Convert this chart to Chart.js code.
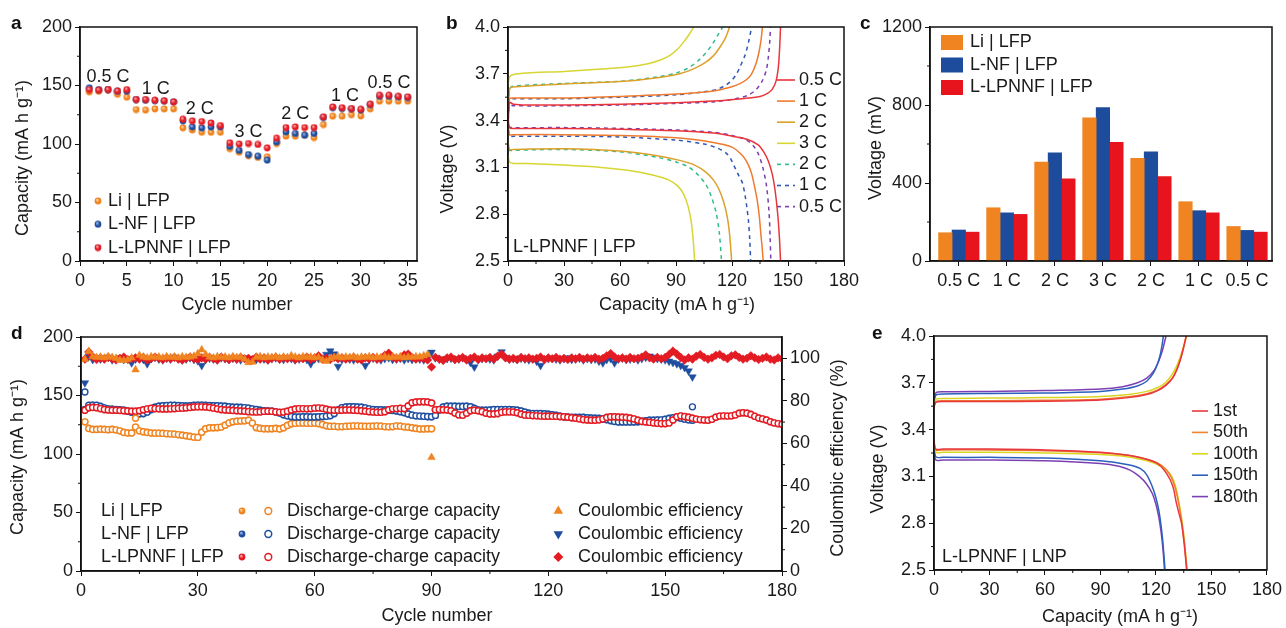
<!DOCTYPE html>
<html>
<head>
<meta charset="utf-8">
<title>Li | LFP cells</title>
<script src="https://cdn.jsdelivr.net/npm/chart.js@4.4.1/dist/chart.umd.min.js"></script>
<style>
  body { margin: 0; background: #fff; }
  #wrap { position: relative; width: 1286px; height: 628px; overflow: hidden; font-family: "Liberation Sans", Arial, sans-serif; }
  #wrap canvas { position: absolute; left: 0; top: 0; }
  .tag { position: absolute; font-weight: bold; font-size: 19px; line-height: 19px; color: #111; }
</style>
</head>
<body>
<div id="wrap">
  <canvas id="rateChart" width="1286" height="628"></canvas>
  <canvas id="profileChart" width="1286" height="628"></canvas>
  <canvas id="polarChart" width="1286" height="628"></canvas>
  <canvas id="cycleChart" width="1286" height="628"></canvas>
  <canvas id="lnpChart" width="1286" height="628"></canvas>
  <div class="tag" style="left:11px;top:13px">a</div>
  <div class="tag" style="left:446px;top:13px">b</div>
  <div class="tag" style="left:860px;top:13px">c</div>
  <div class="tag" style="left:11px;top:323px">d</div>
  <div class="tag" style="left:872px;top:323px">e</div>
</div>
<script>
// ---- data ----
const cellNames = ['Li | LFP', 'L-NF | LFP', 'L-LPNNF | LFP'];

// a: rate capability
const aCycles = [1,2,3,4,5,6,7,8,9,10,11,12,13,14,15,16,17,18,19,20,21,22,23,24,25,26,27,28,29,30,31,32,33,34,35];
const aLi = [144.5,145,146.5,142.5,140, 129.4,129,130,130,130, 113.8,112,110,110,110, 96,93,90,88.5,89, 100.4,106.7,106.7,107.5,105.5, 116.6,123.8,123.8,125,124, 130,136.6,136.6,136.6,136.6];
const aNF = [148,146.5,146.5,145,145, 138,137.4,137,136.6,136, 119.8,114.6,113.8,114.6,114.6, 98,94.5,91,89.6,86.2, 101.8,110.4,109,107.5,109, 122.6,131,130.3,130,129, 133.7,140.8,140.8,140.3,139.7];
const aLPNNF = [146.5,146,146.5,145.4,146.5, 138,138,137.4,137,136, 121.2,119.8,119.2,118,115.8, 101,99.9,100.4,99.6,96.7, 105,114,114.6,114,114, 123.2,131.7,131,130.3,129.7, 134,141.7,141.7,140.8,140.3];
const aRateText = ['0.5 C', '1 C', '2 C', '3 C', '2 C', '1 C', '0.5 C'];
const aRateX = [3, 8.1, 12.8, 18, 23, 28.3, 33];
const aRateY = [157, 147.4, 129.6, 110.4, 125.2, 141, 151.7];

// b: charge / discharge profiles of L-LPNNF | LFP, [capacity, voltage]
const bRates = ['0.5 C', '1 C', '2 C', '3 C', '2 C', '1 C', '0.5 C'];
const bChg05 = [[0,3.37],[0.8,3.515],[3,3.505],[10,3.50],[30,3.50],[60,3.505],[90,3.515],[110,3.525],[125,3.54],[135,3.555],[139,3.575],[141.5,3.60],[143.5,3.65],[144.8,3.74],[145.5,3.86],[146,4.0]];
const bDis05 = [[0,3.43],[0.8,3.355],[3,3.35],[30,3.35],[60,3.345],[90,3.335],[110,3.32],[120,3.30],[128,3.28],[134,3.245],[137,3.20],[139.5,3.14],[141.5,3.06],[143,2.96],[144.5,2.80],[145.4,2.65],[146,2.5]];
const bChg1 = [[0,3.35],[0.8,3.54],[3,3.545],[30,3.545],[60,3.555],[90,3.57],[110,3.59],[118,3.61],[124,3.635],[128,3.665],[130.5,3.70],[132.7,3.76],[134.3,3.83],[135.6,3.92],[136.3,4.0]];
const bDis1 = [[0,3.40],[0.8,3.31],[3,3.31],[30,3.31],[60,3.305],[90,3.29],[110,3.26],[120,3.23],[126,3.17],[128.8,3.115],[130.5,3.06],[132.2,2.97],[133.5,2.89],[134.6,2.79],[135.4,2.68],[136.2,2.58],[136.7,2.5]];
const bChg2 = [[0,3.30],[0.8,3.60],[2.5,3.615],[30,3.635],[60,3.65],[80,3.675],[92,3.70],[100,3.735],[106,3.775],[110,3.815],[113.5,3.87],[116.5,3.93],[118.7,4.0]];
const bDis2 = [[0,3.27],[0.8,3.215],[3,3.215],[30,3.22],[60,3.205],[80,3.175],[92,3.145],[100,3.115],[106,3.07],[110,3.02],[113,2.96],[115.5,2.88],[117.5,2.78],[118.8,2.66],[119.8,2.5]];
const bChg3 = [[0,3.62],[0.8,3.68],[3,3.695],[10,3.705],[30,3.715],[50,3.73],[65,3.745],[75,3.765],[82,3.79],[87,3.82],[91,3.86],[94.5,3.91],[97.5,3.96],[99.5,4.0]];
const bDis3 = [[0,3.18],[0.8,3.135],[3,3.125],[10,3.125],[30,3.115],[50,3.10],[65,3.08],[78,3.05],[86,3.02],[91,2.98],[94,2.93],[96.5,2.85],[98.3,2.74],[99.3,2.62],[100,2.5]];
const bChg2b = [[0,3.30],[0.8,3.60],[2.5,3.62],[30,3.638],[60,3.652],[80,3.68],[90,3.705],[97,3.74],[102,3.785],[106,3.835],[109.5,3.89],[112.5,3.95],[115,4.0]];
const bDis2b = [[0,3.27],[0.8,3.21],[3,3.21],[30,3.215],[60,3.20],[80,3.165],[90,3.135],[97,3.10],[102,3.05],[106,2.99],[109,2.91],[111.5,2.81],[113.2,2.68],[114.4,2.5]];
const bChg1b = [[0,3.35],[0.8,3.535],[3,3.54],[30,3.54],[60,3.55],[90,3.565],[105,3.585],[112,3.60],[117,3.63],[120,3.66],[122.5,3.70],[124.5,3.75],[127,3.82],[129,3.91],[130.5,4.0]];
const bDis1b = [[0,3.39],[0.8,3.30],[3,3.30],[30,3.30],[60,3.295],[90,3.275],[105,3.25],[112,3.225],[117,3.19],[119.5,3.15],[121.5,3.10],[123.5,3.05],[125.6,3.0],[127,2.92],[128,2.84],[128.8,2.76],[129.5,2.64],[130,2.5]];
const bChg05b = [[0,3.36],[0.8,3.50],[3,3.495],[30,3.495],[60,3.50],[90,3.51],[110,3.52],[122,3.54],[129,3.565],[133,3.60],[136,3.65],[138.3,3.72],[139.6,3.82],[140.3,3.92],[140.6,4.0]];
const bDis05b = [[0,3.42],[0.8,3.36],[3,3.355],[30,3.355],[60,3.35],[90,3.34],[110,3.325],[120,3.305],[127,3.28],[131,3.245],[134,3.19],[136.5,3.10],[138.5,2.98],[139.8,2.82],[140.4,2.66],[140.8,2.5]];
const bCharge = [bChg05, bChg1, bChg2, bChg3, bChg2b, bChg1b, bChg05b];
const bDischarge = [bDis05, bDis1, bDis2, bDis3, bDis2b, bDis1b, bDis05b];

// c: polarization voltage (mV)
const cRates = ['0.5 C', '1 C', '2 C', '3 C', '2 C', '1 C', '0.5 C'];
const cLi = [145, 273, 507, 734, 526, 304, 177];
const cNF = [159, 247, 555, 787, 560, 258, 157];
const cLPNNF = [148, 239, 421, 609, 433, 247, 148];

// d: long cycling at 1 C
const dLi = [127.5,121.8,121.0,121.0,121.2,121.0,120.8,121.0,120.6,119.8,
 118.4,118.0,118.0,123.0,119.8,119.0,118.4,118.0,117.8,117.8,
 117.6,117.4,117.2,117.0,116.6,116.0,115.6,115.0,114.4,114.2,
 118.6,121.6,122.4,122.4,122.6,123.0,124.6,126.6,127.6,128.0,
 128.2,128.4,128.8,126.4,122.6,121.8,121.6,121.6,121.6,121.8,
 121.4,122.4,124.4,125.8,126.2,126.4,126.4,126.2,126.2,126.4,
 126.0,125.2,124.2,123.6,123.6,123.4,123.4,123.6,123.8,124.0,
 124.0,123.8,123.6,123.6,123.8,124.0,123.8,123.4,123.2,123.4,
 124.0,123.8,123.2,122.8,122.4,121.8,121.4,121.4,121.6,121.6];
const dNF = [138.0,141.6,141.8,141.6,140.6,139.4,138.6,138.2,138.0,137.8,
 137.4,136.6,135.6,134.8,134.4,134.6,135.8,138.0,140.0,140.8,
 141.2,141.4,141.6,141.6,141.4,141.2,141.0,141.2,141.6,141.8,
 141.8,141.6,141.4,141.2,141.2,141.0,140.8,140.4,140.0,140.0,
 139.8,139.6,139.2,138.6,138.0,137.4,137.0,136.8,136.6,136.0,
 135.0,133.6,132.6,132.0,131.6,131.6,131.8,131.8,131.6,131.6,
 131.8,132.0,132.2,132.8,134.6,137.6,139.6,140.2,140.4,140.4,
 140.2,140.0,139.4,138.6,138.0,137.8,137.8,137.6,137.4,137.2,
 136.8,136.2,135.4,134.2,133.2,132.6,132.4,132.2,132.0,131.8,
 133.0,137.6,140.2,140.8,140.8,140.8,140.6,140.6,140.8,140.4,
 139.0,137.6,137.4,137.4,137.6,138.0,138.0,138.0,138.0,138.0,
 137.8,137.4,136.8,135.8,134.8,134.6,134.6,134.6,134.4,134.0,
 133.6,133.0,132.4,131.8,131.4,131.2,131.2,131.2,131.2,131.0,
 130.8,130.6,130.4,130.0,129.4,128.6,127.8,127.4,127.4,127.4,
 127.4,127.4,127.6,127.8,128.4,128.8,128.9,129.0,129.2,129.6,
 130.4,131.0,131.2,130.6,129.8,129.2,128.9];
const dLPNNF = [137.4,139.5,139.8,139.6,138.8,138.0,137.6,137.4,137.4,137.2,
 137.0,136.8,136.6,136.5,137.0,137.8,138.6,139.0,138.8,138.6,
 138.4,138.4,138.6,138.8,139.0,139.2,139.4,139.8,140.2,140.3,
 140.3,140.2,139.8,139.2,138.6,138.0,137.6,137.4,137.2,137.0,
 136.8,136.6,136.2,136.0,135.8,136.0,136.4,136.6,136.4,136.0,
 135.6,135.8,136.6,137.6,138.4,138.8,138.8,138.6,138.8,139.2,
 139.4,139.0,138.2,137.6,137.4,137.4,137.4,137.6,137.6,137.4,
 137.2,137.0,136.6,136.2,135.8,135.6,135.6,136.2,137.8,138.6,
 138.8,139.0,138.8,141.0,143.8,144.4,144.6,144.6,144.4,143.6,
 137.8,138.0,137.8,137.6,137.0,135.0,133.4,133.2,134.8,137.0,
 137.4,137.0,136.2,134.8,134.2,134.2,134.6,135.6,136.0,136.0,
 135.8,135.2,134.0,133.2,133.0,132.8,132.6,132.4,132.3,132.3,
 132.2,132.2,132.0,131.8,131.4,131.0,130.6,130.0,129.4,129.0,
 128.9,128.9,129.2,130.0,131.2,131.8,131.8,131.6,131.4,131.2,
 130.8,130.0,128.8,127.8,127.4,127.0,126.6,126.2,126.0,126.0,
 126.6,129.0,131.8,132.6,132.0,131.4,130.6,129.8,129.4,129.0,
 128.8,129.6,131.4,132.4,132.6,132.4,132.6,133.4,134.8,135.2,
 134.8,133.8,132.2,130.8,130.0,129.0,127.6,126.6,126.0,125.4];
// charge points that sit apart from the discharge chain
const dLiChgX = [14], dLiChgY = [130.6];
const dNFChgX = [1, 157], dNFChgY = [153, 140.3];
// Coulombic efficiency (%)
const ceLi = [99.5,103.2,100.8,100.4,100.6,100.2,100.8,100.4,100.0,99.2,
 99.0,99.4,100.2,94.6,101.4,100.6,100.2,100.8,100.4,100.6,
 100.2,100.8,100.4,100.6,100.2,100.8,100.4,100.6,101.0,102.2,
 104.0,101.8,100.6,100.2,100.8,100.4,100.6,100.2,100.8,100.4,
 100.6,99.6,98.0,98.2,100.4,100.8,100.2,100.6,100.4,100.8,
 100.2,100.6,100.4,101.2,100.6,100.2,100.8,100.4,100.6,100.2,
 100.4,99.2,98.6,99.8,100.4,100.8,100.2,100.6,100.4,100.8,
 100.2,100.6,100.4,100.8,100.2,100.6,100.4,100.8,100.2,100.6,
 100.4,100.8,100.2,100.6,100.4,100.8,100.6,101.2,101.8,53.4];
const ceNF = [88.4,100.8,99.4,100.2,99.6,99.8,100.4,99.2,99.6,100.2,
 99.4,99.8,97.8,99.6,100.2,99.4,97.4,99.8,100.4,99.6,
 99.2,100.0,99.6,100.4,99.8,99.2,99.6,100.2,99.4,98.8,
 96.6,99.4,100.0,99.6,99.2,100.2,99.8,99.4,100.0,99.6,
 99.2,100.2,99.6,99.8,99.4,100.0,99.6,99.2,99.8,100.2,
 99.6,99.4,100.0,99.8,99.2,99.6,100.2,99.4,97.4,99.6,
 99.8,100.2,101.8,103.4,102.0,96.2,99.4,100.0,99.6,99.2,
 99.8,99.6,96.6,99.4,100.0,99.6,99.2,99.8,100.2,99.4,
 99.6,100.0,99.2,99.8,99.4,100.0,99.6,99.2,100.2,102.8,
 100.2,99.6,99.2,99.8,100.0,99.4,99.6,100.2,99.4,98.0,
 95.9,99.4,99.8,100.0,99.6,99.2,101.0,103.0,100.4,99.6,
 99.8,99.4,100.0,99.6,99.2,99.8,98.6,96.6,99.4,99.8,
 100.0,99.6,99.2,99.8,100.2,99.4,99.6,100.0,99.2,99.8,
 99.4,99.6,98.6,97.8,99.4,99.8,97.8,99.6,100.0,99.4,
 99.6,100.0,99.2,99.8,100.4,101.0,100.4,99.8,99.6,99.2,
 98.6,98.0,97.4,96.6,95.6,94.0,91.2];
const ceLPNNF = [99.6,103.0,100.8,99.4,100.2,99.6,100.4,99.8,99.2,100.0,
 100.6,99.4,99.8,100.2,99.6,100.4,99.2,99.8,100.6,100.0,
 99.4,100.2,99.8,100.4,99.6,99.2,100.0,100.6,99.8,99.4,
 100.2,99.6,100.4,99.8,99.2,100.6,100.0,99.4,100.2,99.6,
 100.4,99.8,100.0,99.4,100.6,99.6,100.2,99.2,100.0,100.4,
 99.6,100.2,99.8,100.4,99.4,100.0,99.8,100.6,99.4,100.2,
 101.2,99.6,100.0,99.4,100.4,99.8,100.2,99.6,100.0,100.4,
 99.6,99.2,100.2,99.8,100.4,99.6,100.0,101.4,102.4,100.6,
 99.8,100.2,101.6,102.0,100.4,99.6,100.2,99.8,99.2,95.9,
 100.4,99.6,99.0,100.2,100.6,99.4,99.8,100.4,99.2,100.0,
 100.6,99.4,100.2,99.8,100.4,99.6,101.0,102.0,100.2,99.6,
 100.0,99.4,100.4,99.8,100.2,99.6,100.0,100.6,99.4,100.2,
 99.8,100.4,99.6,100.0,99.4,100.2,99.8,100.4,99.6,100.2,
 99.8,100.4,99.6,100.0,101.2,102.2,100.6,99.8,100.2,99.6,
 100.4,99.8,100.0,100.6,101.6,100.2,99.6,100.4,99.8,100.4,
 101.8,103.4,102.0,100.4,99.2,100.2,99.6,101.0,101.8,100.4,
 99.6,100.2,101.4,101.8,100.6,99.8,101.2,101.6,100.4,99.6,
 100.0,101.2,100.2,99.4,100.0,100.6,99.6,99.2,100.2,99.8];

// e: L-LPNNF | LNP profiles, [capacity, voltage]
const eCycles = ['1st', '50th', '100th', '150th', '180th'];
const eChg1 = [[0,3.54],[1,3.575],[5,3.58],[30,3.58],[60,3.582],[90,3.59],[105,3.605],[115,3.625],[121,3.65],[125.5,3.685],[129,3.73],[131.5,3.79],[133.5,3.86],[135.2,3.94],[136.3,4.0]];
const eChg50 = [[0,3.55],[1,3.58],[5,3.585],[30,3.585],[60,3.588],[90,3.595],[105,3.61],[115,3.63],[121,3.655],[125.5,3.69],[129,3.735],[131.5,3.795],[133.5,3.865],[135.3,3.945],[136.4,4.0]];
const eChg100 = [[0,3.56],[1,3.595],[5,3.60],[30,3.602],[60,3.605],[90,3.612],[105,3.625],[115,3.645],[121,3.67],[125,3.70],[128.5,3.75],[131.3,3.81],[133.5,3.88],[135.3,3.95],[136.6,4.0]];
const eChg150 = [[0,3.57],[1,3.62],[5,3.628],[30,3.632],[60,3.635],[90,3.645],[102,3.66],[110,3.68],[115,3.71],[118.5,3.76],[120.8,3.82],[122.3,3.88],[123.4,3.95],[124,4.0]];
const eChg180 = [[0,3.58],[1,3.635],[5,3.642],[30,3.645],[60,3.65],[90,3.66],[102,3.675],[110,3.70],[115,3.73],[119,3.78],[121.5,3.84],[123.3,3.9],[124.6,3.96],[125.4,4.0]];
const eDis1 = [[0,3.33],[1,3.275],[5,3.275],[30,3.275],[60,3.27],[90,3.255],[105,3.235],[115,3.21],[120.5,3.185],[124.5,3.14],[127.6,3.08],[129.5,3.02],[131,2.93],[132.5,2.86],[133.8,2.80],[135.2,2.67],[136.6,2.5]];
const eDis50 = [[0,3.32],[1,3.27],[5,3.27],[30,3.27],[60,3.265],[90,3.252],[105,3.235],[115,3.21],[121,3.185],[125,3.15],[128,3.10],[130.3,3.03],[132.2,2.93],[133.9,2.81],[135.5,2.66],[136.8,2.5]];
const eDis100 = [[0,3.30],[1,3.255],[5,3.255],[30,3.255],[60,3.25],[90,3.24],[105,3.225],[115,3.20],[121,3.175],[125.5,3.14],[128.5,3.10],[130.5,3.04],[132.3,2.94],[134,2.82],[135.5,2.67],[136.6,2.5]];
const eDis150 = [[0,3.30],[1,3.225],[5,3.222],[30,3.222],[60,3.218],[90,3.20],[105,3.175],[111.6,3.15],[115,3.11],[117.8,3.04],[119.8,2.97],[121.4,2.89],[122.7,2.79],[123.7,2.68],[124.9,2.5]];
const eDis180 = [[0,3.28],[1,3.205],[5,3.205],[30,3.205],[60,3.20],[90,3.183],[100,3.165],[106,3.14],[111,3.10],[115,3.05],[118,2.99],[120,2.92],[121.5,2.84],[122.8,2.74],[123.8,2.63],[124.6,2.5]];
const eCharge = [eChg1, eChg50, eChg100, eChg150, eChg180];
const eDischarge = [eDis1, eDis50, eDis100, eDis150, eDis180];

// ---- styles ----
const ORANGE = '#ef8420', BLUE = '#1f4e9f', RED = '#e31b23';
const bColors = ['#e8363c', '#ef7b2e', '#dba12a', '#d6d634', '#2fbb8c', '#2f56b2', '#7c3fb0'];
const bDash = [[], [], [], [], [4, 4], [4, 4], [4, 4]];
const eColors = ['#e8363c', '#f07f2e', '#d9d622', '#2b60bd', '#7d40b4'];
const FONT = '18px "Liberation Sans", Arial, sans-serif';
const INK = '#1a1a1a';

Chart.defaults.font.family = '"Liberation Sans", Arial, sans-serif';
Chart.defaults.font.size = 18;
Chart.defaults.color = INK;
Chart.defaults.animation = false;
Chart.defaults.plugins.legend.display = false;
Chart.defaults.plugins.tooltip.enabled = false;

const W = 1286, H = 628, AXW = 60, AXH = 40;

function pad(l, t, r, b, rightAxis) {
  return { left: l - AXW, top: t, right: W - r - (rightAxis ? AXW : 0), bottom: H - b - AXH };
}

function axis(pos, min, max, step, extra) {
  return Object.assign({
    type: 'linear', position: pos, min: min, max: max,
    ticks: { stepSize: step, includeBounds: false, padding: pos === 'bottom' ? 4 : 3, color: INK, callback: v => String(v) },
    grid: { display: true, drawOnChartArea: false, drawTicks: true, tickLength: 5, color: '#111', lineWidth: 1 },
    border: { display: true, color: '#111', width: 1.5 },
    afterFit: s => { if (pos === 'bottom') s.height = AXH; else s.width = AXW; }
  }, extra || {});
}

// frame around the plot + minor ticks midway between major ticks
function frame(ids) {
  return {
    id: 'frame',
    afterDraw(chart) {
      const { ctx, chartArea: a } = chart;
      ctx.save();
      ctx.strokeStyle = '#111';
      ctx.lineWidth = 1.5;
      ctx.strokeRect(a.left, a.top, a.right - a.left, a.bottom - a.top);
      ctx.lineWidth = 1;
      ids.forEach(id => {
        const s = chart.scales[id];
        const t = s.ticks.map(k => k.value);
        for (let i = 0; i < t.length - 1; i++) {
          const p = s.getPixelForValue((t[i] + t[i + 1]) / 2);
          ctx.beginPath();
          if (s.position === 'bottom') { ctx.moveTo(p, a.bottom); ctx.lineTo(p, a.bottom + 3); }
          else if (s.position === 'left') { ctx.moveTo(a.left, p); ctx.lineTo(a.left - 3, p); }
          else { ctx.moveTo(a.right, p); ctx.lineTo(a.right + 3, p); }
          ctx.stroke();
        }
      });
      ctx.restore();
    }
  };
}

function vTitle(ctx, text, x, y) {
  ctx.save();
  ctx.translate(x, y);
  ctx.rotate(-Math.PI / 2);
  ctx.textAlign = 'center';
  ctx.textBaseline = 'middle';
  ctx.fillText(text, 0, 0);
  ctx.restore();
}

function textStyle(ctx, align) {
  ctx.font = FONT;
  ctx.fillStyle = INK;
  ctx.textAlign = align || 'left';
  ctx.textBaseline = 'middle';
}

function ball(color, light) {
  const c = document.createElement('canvas');
  c.width = c.height = 8;
  const g = c.getContext('2d');
  const grad = g.createRadialGradient(3, 2.7, 0.2, 4, 4, 3.7);
  grad.addColorStop(0, light);
  grad.addColorStop(0.55, color);
  grad.addColorStop(1, color);
  g.fillStyle = grad;
  g.beginPath();
  g.arc(4, 4, 3.4, 0, Math.PI * 2);
  g.fill();
  return c;
}
const balls = {
  orange: ball(ORANGE, '#ffd8a8'),
  blue: ball(BLUE, '#a9bfea'),
  red: ball(RED, '#ffb3b3')
};

const pts = (xs, ys) => ys.map((v, i) => ({ x: xs[i], y: v }));
const pairs = arr => arr.map(p => ({ x: p[0], y: p[1] }));
const voltTick = v => v.toFixed(1);

// ---- a ----
new Chart(document.getElementById('rateChart'), {
  type: 'scatter',
  data: {
    datasets: [
      { data: pts(aCycles, aLPNNF), pointStyle: balls.red, pointRadius: 3.4 },
      { data: pts(aCycles, aNF), pointStyle: balls.blue, pointRadius: 3.4 },
      { data: pts(aCycles, aLi), pointStyle: balls.orange, pointRadius: 3.4 }
    ]
  },
  options: {
    responsive: false,
    layout: { autoPadding: false, padding: pad(80, 27, 417, 261) },
    scales: { x: axis('bottom', 0, 36, 5), y: axis('left', 0, 200, 50) }
  },
  plugins: [frame(['x', 'y']), {
    id: 'decoA',
    afterDraw(chart) {
      const { ctx, scales: { x, y } } = chart;
      ctx.save();
      textStyle(ctx, 'center');
      aRateText.forEach((t, i) => ctx.fillText(t, x.getPixelForValue(aRateX[i]), y.getPixelForValue(aRateY[i])));
      textStyle(ctx, 'left');
      [balls.orange, balls.blue, balls.red].forEach((b, i) => {
        const yy = 201 + i * 23.3;
        ctx.drawImage(b, 94, yy - 4);
        ctx.fillText(cellNames[i], 108, yy);
      });
      vTitle(ctx, 'Capacity (mA h g\u207B\u00B9)', 23, 158);
      textStyle(ctx, 'center');
      ctx.fillText('Cycle number', 237, 305);
      ctx.restore();
    }
  }]
});

// ---- b ----
const bSets = [];
bCharge.forEach((c, i) => {
  [c, bDischarge[i]].forEach(curve => bSets.push({
    data: pairs(curve), showLine: true, pointRadius: 0, borderWidth: 1.5,
    borderColor: bColors[i], borderDash: bDash[i], tension: 0.3
  }));
});
new Chart(document.getElementById('profileChart'), {
  type: 'scatter',
  data: { datasets: bSets },
  options: {
    responsive: false,
    layout: { autoPadding: false, padding: pad(508, 27, 844, 261) },
    scales: {
      x: axis('bottom', 0, 180, 30),
      y: axis('left', 2.5, 4.0, 0.3, { ticks: { stepSize: 0.3, padding: 3, color: INK, callback: voltTick } })
    }
  },
  plugins: [frame(['x', 'y']), {
    id: 'decoB',
    afterDraw(chart) {
      const { ctx } = chart;
      ctx.save();
      textStyle(ctx, 'left');
      bRates.forEach((t, i) => {
        const yy = 80 + i * 21.1;
        ctx.strokeStyle = bColors[i];
        ctx.lineWidth = 1.6;
        ctx.setLineDash(bDash[i]);
        ctx.beginPath(); ctx.moveTo(777, yy); ctx.lineTo(795, yy); ctx.stroke();
        ctx.fillText(t, 799, yy);
      });
      ctx.setLineDash([]);
      ctx.fillText('L-LPNNF | LFP', 513, 247);
      vTitle(ctx, 'Voltage (V)', 448, 169);
      textStyle(ctx, 'center');
      ctx.fillText('Capacity (mA h g\u207B\u00B9)', 677, 305);
      ctx.restore();
    }
  }]
});

// ---- c ----
const cColors = ['#ef8420', '#1e4c9c', '#e8141d'];
new Chart(document.getElementById('polarChart'), {
  type: 'bar',
  data: {
    datasets: [cLi, cNF, cLPNNF].map((vals, i) => ({
      data: vals.map((v, k) => ({ x: k + 1, y: v })),
      backgroundColor: cColors[i], barThickness: 13.5, borderWidth: 0
    }))
  },
  options: {
    responsive: false,
    layout: { autoPadding: false, padding: pad(930, 27, 1272, 261) },
    scales: {
      x: axis('bottom', 0.4, 7.52, 1, {
        offset: false,
        ticks: { stepSize: 1, includeBounds: false, padding: 4, color: INK, callback: v => cRates[Math.round(v) - 1] },
        grid: { display: true, offset: false, drawOnChartArea: false, drawTicks: true, tickLength: 5, color: '#111', lineWidth: 1 }
      }),
      y: axis('left', 0, 1200, 400)
    }
  },
  plugins: [frame(['y']), {
    id: 'decoC',
    afterDraw(chart) {
      const { ctx } = chart;
      ctx.save();
      textStyle(ctx, 'left');
      cColors.forEach((col, i) => {
        const yy = 42.5 + i * 22.5;
        ctx.fillStyle = col;
        ctx.fillRect(941, yy - 7.5, 22, 15);
        ctx.fillStyle = INK;
        ctx.fillText(cellNames[i], 970, yy);
      });
      vTitle(ctx, 'Voltage (mV)', 876, 148);
      ctx.restore();
    }
  }]
});

// ---- d ----
const cyc = n => Array.from({ length: n }, (_, i) => i + 1);
const openSet = (data, color) => ({ data, pointStyle: 'circle', pointRadius: 3, pointBackgroundColor: '#fff', pointBorderColor: color, pointBorderWidth: 1.4 });
const filledSet = (data, img) => ({ data, pointStyle: img, pointRadius: 3.4 });
const ceSet = (data, color, style, rot, r) => ({ data, yAxisID: 'y1', pointStyle: style, pointRotation: rot, pointRadius: r, pointBackgroundColor: color, pointBorderColor: color, pointBorderWidth: 0.5 });

new Chart(document.getElementById('cycleChart'), {
  type: 'scatter',
  data: {
    datasets: [
      ceSet(pts(cyc(ceLi.length), ceLi), ORANGE, 'triangle', 0, 4.4),
      ceSet(pts(cyc(ceLPNNF.length), ceLPNNF), RED, 'rectRot', 0, 4.3),
      ceSet(pts(cyc(ceNF.length), ceNF), BLUE, 'triangle', 180, 4.4),
      openSet(pts(dLiChgX, dLiChgY), ORANGE),
      openSet(pts(dNFChgX, dNFChgY), BLUE),
      openSet(pts(cyc(dLPNNF.length), dLPNNF), RED),
      filledSet(pts(cyc(dLPNNF.length), dLPNNF), balls.red),
      openSet(pts(cyc(dNF.length), dNF), BLUE),
      filledSet(pts(cyc(dNF.length), dNF), balls.blue),
      openSet(pts(cyc(dLi.length), dLi), ORANGE),
      filledSet(pts(cyc(dLi.length), dLi), balls.orange)
    ]
  },
  options: {
    responsive: false,
    layout: { autoPadding: false, padding: pad(81, 337, 782, 571, true) },
    scales: {
      x: axis('bottom', 0, 180, 30),
      y: axis('left', 0, 200, 50),
      y1: axis('right', 0, 110, 20)
    }
  },
  plugins: [frame(['x', 'y', 'y1']), {
    id: 'decoD',
    afterDraw(chart) {
      const { ctx } = chart;
      const colors = [ORANGE, BLUE, RED];
      const bl = [balls.orange, balls.blue, balls.red];
      ctx.save();
      textStyle(ctx, 'left');
      [511, 534, 557].forEach((yy, i) => {
        ctx.fillStyle = INK;
        ctx.fillText(cellNames[i], 101, yy);
        ctx.fillText('Discharge-charge capacity', 287, yy);
        ctx.fillText('Coulombic efficiency', 578, yy);
        ctx.drawImage(bl[i], 238, yy - 4);
        ctx.strokeStyle = colors[i];
        ctx.lineWidth = 1.5;
        ctx.beginPath(); ctx.arc(268.3, yy, 3.4, 0, Math.PI * 2); ctx.stroke();
        ctx.fillStyle = colors[i];
        const x = 558.3, r = 5.5;
        ctx.beginPath();
        if (i === 0) { ctx.moveTo(x, yy - r); ctx.lineTo(x + r * 0.866, yy + r / 2); ctx.lineTo(x - r * 0.866, yy + r / 2); }
        else if (i === 1) { ctx.moveTo(x, yy + r); ctx.lineTo(x + r * 0.866, yy - r / 2); ctx.lineTo(x - r * 0.866, yy - r / 2); }
        else { ctx.moveTo(x, yy - 5); ctx.lineTo(x + 5, yy); ctx.lineTo(x, yy + 5); ctx.lineTo(x - 5, yy); }
        ctx.closePath();
        ctx.fill();
      });
      ctx.fillStyle = INK;
      vTitle(ctx, 'Capacity (mA h g\u207B\u00B9)', 18, 457);
      vTitle(ctx, 'Coulombic efficiency (%)', 838, 458);
      textStyle(ctx, 'center');
      ctx.fillText('Cycle number', 437, 616);
      ctx.restore();
    }
  }]
});

// ---- e ----
const eSets = [];
eCharge.forEach((c, i) => {
  [c, eDischarge[i]].forEach(curve => eSets.push({
    data: pairs(curve), showLine: true, pointRadius: 0, borderWidth: 1.5,
    borderColor: eColors[i], tension: 0.3
  }));
});
new Chart(document.getElementById('lnpChart'), {
  type: 'scatter',
  data: { datasets: eSets },
  options: {
    responsive: false,
    layout: { autoPadding: false, padding: pad(934, 336, 1272, 570) },
    scales: {
      x: axis('bottom', 0, 180, 30),
      y: axis('left', 2.5, 4.0, 0.3, { ticks: { stepSize: 0.3, padding: 3, color: INK, callback: voltTick } })
    }
  },
  plugins: [frame(['x', 'y']), {
    id: 'decoE',
    afterDraw(chart) {
      const { ctx } = chart;
      ctx.save();
      textStyle(ctx, 'left');
      eCycles.forEach((t, i) => {
        const yy = 411 + i * 21.4;
        ctx.strokeStyle = eColors[i];
        ctx.lineWidth = 1.6;
        ctx.beginPath(); ctx.moveTo(1192, yy); ctx.lineTo(1208, yy); ctx.stroke();
        ctx.fillText(t, 1213, yy);
      });
      ctx.fillText('L-LPNNF | LNP', 942, 557);
      vTitle(ctx, 'Voltage (V)', 878, 469);
      textStyle(ctx, 'center');
      ctx.fillText('Capacity (mA h g\u207B\u00B9)', 1120, 617);
      ctx.restore();
    }
  }]
});
</script>
</body>
</html>
